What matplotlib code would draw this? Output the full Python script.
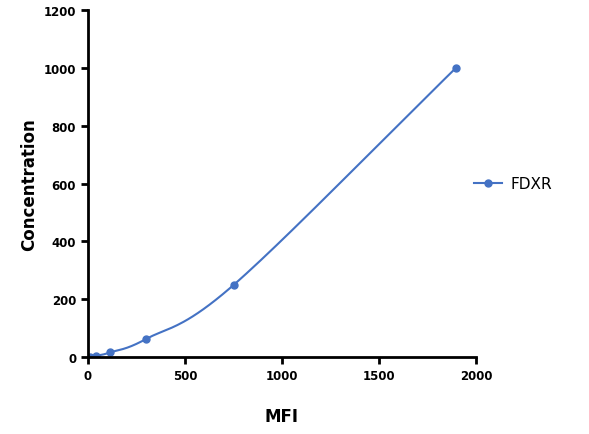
import matplotlib.pyplot as plt
import numpy as np

mfi = [10, 41, 113, 300, 752, 1897]
concentration = [0, 3.9, 15.6, 62.5, 250, 1000]
color = '#4472C4'


def smooth(x, y, n=40):
	# Catmull-Rom spline through the points
	x = np.asarray(x, float)
	y = np.asarray(y, float)
	px = np.concatenate([[2 * x[0] - x[1]], x, [2 * x[-1] - x[-2]]])
	py = np.concatenate([[2 * y[0] - y[1]], y, [2 * y[-1] - y[-2]]])
	xs, ys = [], []
	t = np.linspace(0, 1, n)
	for i in range(1, len(px) - 2):
		for p, out in ((px, xs), (py, ys)):
			p0, p1, p2, p3 = p[i - 1], p[i], p[i + 1], p[i + 2]
			out.extend(0.5 * (2 * p1 + (-p0 + p2) * t + (2 * p0 - 5 * p1 + 4 * p2 - p3) * t ** 2
							  + (-p0 + 3 * p1 - 3 * p2 + p3) * t ** 3))
	return xs, ys


fig = plt.figure(figsize=(5.89, 4.35), dpi=100)
ax = fig.add_axes([88 / 589, 1 - 358 / 435, 388 / 589, 347 / 435])
sx, sy = smooth(mfi, concentration)
ax.plot(sx, sy, color=color, linewidth=1.5)
ax.plot(mfi, concentration, 'o', color=color, markersize=5)
ax.plot([], [], '-o', color=color, markersize=5, linewidth=1.5, label='FDXR')

ax.set_xlim(0, 2000)
ax.set_ylim(0, 1200)
ax.set_xticks(range(0, 2001, 500))
ax.set_yticks(range(0, 1201, 200))
for s in ['top', 'right']:
	ax.spines[s].set_visible(False)
for s in ['left', 'bottom']:
	ax.spines[s].set_linewidth(2)
ax.tick_params(width=2, length=5, labelsize=8.5)
for lab in ax.get_xticklabels() + ax.get_yticklabels():
	lab.set_fontweight('bold')
ax.set_xlabel('MFI', fontsize=12, fontweight='bold', labelpad=18)
ax.set_ylabel('Concentration', fontsize=12, fontweight='bold', labelpad=4)
ax.legend(loc='center left', bbox_to_anchor=(0.96, 0.5), frameon=False, fontsize=11,
		  handlelength=1.8, handletextpad=0.6)
fig.savefig('out.png', dpi=100)
